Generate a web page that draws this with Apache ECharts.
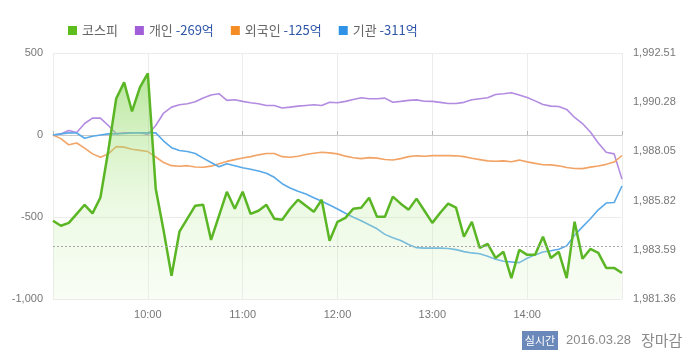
<!DOCTYPE html>
<html>
<head>
<meta charset="utf-8">
<script src="https://cdn.jsdelivr.net/npm/echarts@6/dist/echarts.min.js"></script>
<style>
html,body{margin:0;padding:0;background:#fff;}
#chart{width:700px;height:357px;}
</style>
</head>
<body>
<div id="chart"></div>
<script>
// Time categories: 5-minute steps from 09:00 to 15:00
var times = [];
for (var h = 9; h <= 15; h++) {
  for (var m = 0; m < 60; m += 5) {
    if (h === 15 && m > 0) break;
    times.push((h < 10 ? '0' + h : '' + h) + ':' + (m < 10 ? '0' + m : '' + m));
  }
}

var seriesNames = ['코스피', '개인', '외국인', '기관'];
var legendValues = { '개인': '-269억', '외국인': '-125억', '기관': '-311억' };

// KOSPI index (right axis)
var kospi = [
  1984.91, 1984.68, 1984.81, 1985.22, 1985.63, 1985.24, 1985.96, 1988.09, 1990.45, 1991.18,
  1989.86, 1990.95, 1991.59, 1986.36, 1984.45, 1982.41, 1984.41, 1985.00, 1985.59, 1985.63,
  1984.04, 1985.13, 1986.22, 1985.45, 1986.22, 1985.22, 1985.36, 1985.63, 1985.00, 1984.95,
  1985.45, 1985.86, 1985.59, 1985.31, 1985.86, 1984.00, 1984.86, 1985.04, 1985.45, 1985.50,
  1985.95, 1985.09, 1985.09, 1986.00, 1985.68, 1985.41, 1985.91, 1985.36, 1984.81, 1985.27,
  1985.68, 1985.50, 1984.18, 1984.86, 1983.68, 1983.86, 1983.22, 1983.50, 1982.31, 1983.59,
  1983.36, 1983.36, 1984.18, 1983.22, 1983.50, 1982.31, 1984.86, 1983.18, 1983.63, 1983.45,
  1982.77, 1982.77, 1982.54
];
var kospiPrevClose = 1983.77;

// Net buying (억원, left axis)
var individual = [
  0, 6, 27, 15, 70, 103, 103, 58, 9, 13,
  14, 14, 3, 58, 134, 170, 184, 191, 203, 226,
  244, 252, 211, 215, 205, 197, 191, 180, 180, 165,
  170, 176, 180, 184, 180, 200, 197, 205, 217, 227,
  221, 221, 225, 200, 205, 211, 214, 206, 205, 199,
  192, 192, 199, 215, 221, 227, 247, 252, 258, 244,
  229, 208, 186, 176, 174, 156, 107, 70, 18, -49,
  -105, -115, -269
];
var foreign = [
  0, -22, -60, -49, -80, -115, -136, -115, -71, -74,
  -87, -94, -101, -134, -168, -187, -191, -187, -195, -197,
  -190, -175, -161, -150, -140, -132, -121, -113, -113, -132,
  -136, -130, -119, -111, -105, -109, -115, -129, -139, -144,
  -138, -141, -149, -152, -144, -132, -127, -130, -126, -126,
  -126, -127, -132, -142, -150, -158, -160, -158, -163, -153,
  -164, -173, -181, -182, -188, -198, -204, -205, -196, -189,
  -179, -165, -125
];
var institution = [
  0, 7, 13, 12, -20, -8, 0, 7, 7, 9,
  13, 13, 13, 13, -37, -77, -95, -101, -113, -141,
  -168, -194, -175, -187, -200, -209, -219, -233, -258, -297,
  -323, -343, -360, -382, -404, -427, -451, -477, -502, -523,
  -547, -572, -606, -627, -643, -668, -687, -690, -690, -690,
  -692, -699, -711, -719, -724, -740, -758, -770, -774, -778,
  -752, -731, -713, -706, -697, -676, -611, -560, -511, -456,
  -415, -412, -311
];

var leftTicks = { min: -1000, max: 500, interval: 500 };
var rightTicks = { min: 1981.36, max: 1992.51, interval: 2.23 };

var lineColors = ['#5ab624', '#b38be0', '#f2a466', '#59a9e8'];
var legendColors = ['#5cbd1c', '#a25ed8', '#f38d24', '#2e93e6'];

var chart = echarts.init(document.getElementById('chart'), null, { renderer: 'canvas' });

function hourTick(idx) { return idx % 12 === 0; }

var option = {
  animation: false,
  backgroundColor: '#ffffff',
  textStyle: { fontFamily: 'Arial, "Liberation Sans", sans-serif' },
  legend: {
    left: 63,
    top: 19,
    icon: 'rect',
    itemWidth: 9,
    itemHeight: 9,
    itemGap: 17,
    data: seriesNames.map(function (n, i) {
      return { name: n, itemStyle: { color: legendColors[i] } };
    }),
    formatter: function (name) {
      if (legendValues[name]) return '{n|' + name + '} {v|' + legendValues[name] + '}';
      return '{n|' + name + '}';
    },
    textStyle: {
      fontFamily: '"Noto Sans CJK KR", sans-serif',
      fontSize: 13,
      color: '#666',
      rich: {
        n: { fontFamily: '"Noto Sans CJK KR", sans-serif', fontSize: 13, color: '#666' },
        v: { fontFamily: '"Noto Sans CJK KR", sans-serif', fontSize: 13, color: '#2f55a8' }
      }
    }
  },
  grid: { left: 53, right: 78, top: 53, bottom: 58 },
  xAxis: {
    type: 'category',
    data: times,
    boundaryGap: false,
    axisLine: { lineStyle: { color: '#c8c8c8', width: 1 } },
    axisTick: { show: true, inside: true, length: 4, interval: hourTick, lineStyle: { color: '#b8b8b8' } },
    splitLine: { show: true, interval: hourTick, lineStyle: { color: '#ececec', width: 1 } },
    axisLabel: {
      interval: hourTick,
      margin: 10,
      fontSize: 11,
      color: '#777',
      formatter: function (v, idx) {
        if (idx === 0 || idx === times.length - 1) return '';
        return v;
      }
    }
  },
  yAxis: [
    {
      type: 'value',
      min: leftTicks.min, max: leftTicks.max, interval: leftTicks.interval,
      axisLine: { show: false }, axisTick: { show: false },
      splitLine: { lineStyle: { color: '#ececec', width: 1 } },
      axisLabel: {
        margin: 10, fontSize: 11, color: '#777',
        formatter: function (v) { return v.toLocaleString('en-US'); }
      }
    },
    {
      type: 'value',
      position: 'right',
      min: rightTicks.min, max: rightTicks.max, interval: rightTicks.interval,
      axisLine: { show: false }, axisTick: { show: false },
      splitLine: { show: false },
      axisLabel: {
        margin: 11, fontSize: 11, color: '#777',
        formatter: function (v) {
          return v.toLocaleString('en-US', { minimumFractionDigits: 2, maximumFractionDigits: 2 });
        }
      }
    }
  ],
  series: [
    {
      name: '코스피', type: 'line', yAxisIndex: 1, data: kospi, z: 4,
      symbol: 'none', smooth: false,
      lineStyle: { color: lineColors[0], width: 2.5 },
      itemStyle: { color: lineColors[0] },
      areaStyle: {
        color: new echarts.graphic.LinearGradient(0, 0, 0, 1, [
          { offset: 0, color: 'rgba(120,208,66,0.75)' },
          { offset: 0.55, color: 'rgba(190,236,160,0.45)' },
          { offset: 1, color: 'rgba(225,246,210,0.3)' }
        ])
      },
      markLine: {
        silent: true, symbol: 'none', label: { show: false },
        lineStyle: { color: '#a8a8a8', type: [2, 2], width: 1 },
        data: [{ yAxis: kospiPrevClose }]
      }
    },
    {
      name: '개인', type: 'line', yAxisIndex: 0, data: individual, z: 3,
      symbol: 'none', lineStyle: { color: lineColors[1], width: 1.6 }, itemStyle: { color: lineColors[1] }
    },
    {
      name: '외국인', type: 'line', yAxisIndex: 0, data: foreign, z: 3,
      symbol: 'none', lineStyle: { color: lineColors[2], width: 1.6 }, itemStyle: { color: lineColors[2] }
    },
    {
      name: '기관', type: 'line', yAxisIndex: 0, data: institution, z: 3,
      symbol: 'none', lineStyle: { color: lineColors[3], width: 1.6 }, itemStyle: { color: lineColors[3] }
    }
  ],
  graphic: [
    {
      type: 'rect', left: 522, top: 331, shape: { width: 36, height: 19 },
      style: { fill: '#6b88ba' }
    },
    {
      type: 'text', x: 540, y: 340.5,
      style: { text: '실시간', fill: '#ffffff', align: 'center', verticalAlign: 'middle',
               font: '11px "Noto Sans CJK KR", sans-serif' }
    },
    {
      type: 'text', x: 566, y: 340,
      style: { text: '2016.03.28', fill: '#8a8a8a', verticalAlign: 'middle',
               font: '13px Arial, "Liberation Sans", sans-serif' }
    },
    {
      type: 'text', x: 641, y: 340,
      style: { text: '장마감', fill: '#8a8a8a', verticalAlign: 'middle',
               font: '15px "Noto Sans CJK KR", sans-serif' }
    }
  ]
};

chart.setOption(option);
</script>
</body>
</html>
